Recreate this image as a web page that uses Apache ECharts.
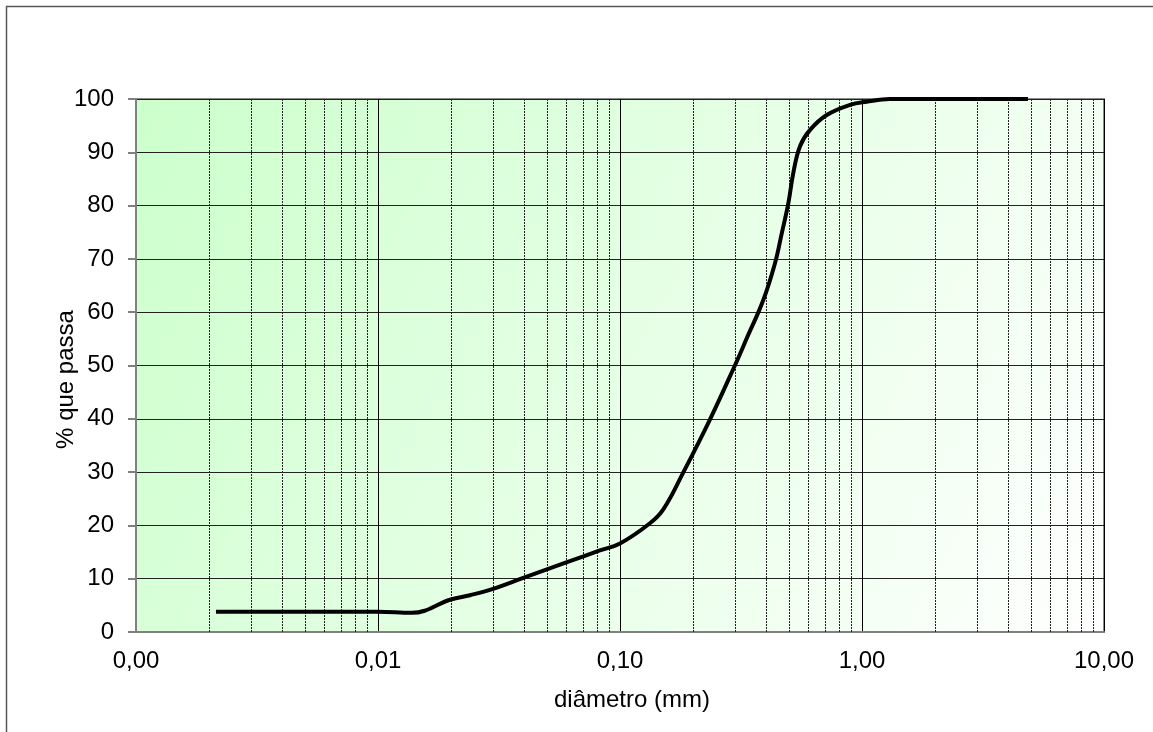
<!DOCTYPE html>
<html>
<head>
<meta charset="utf-8">
<script src="https://cdn.jsdelivr.net/npm/echarts@6/dist/echarts.min.js"></script>
<style>html,body{margin:0;padding:0;background:#fff}#c{width:1153px;height:732px}</style>
</head>
<body>
<div id="c"></div>
<script>
// diameter (mm) and % passing
var diameters = [0.00214, 0.0050, 0.0100, 0.0138, 0.0200, 0.0240, 0.0290, 0.0401, 0.0604, 0.0826, 0.100, 0.133, 0.151, 0.182, 0.235, 0.299, 0.334, 0.391, 0.437, 0.466, 0.496, 0.520, 0.554, 0.610, 0.715, 0.892, 1.045, 1.305, 4.85];
var passing   = [3.8,     3.8,    3.8,    3.6,    6.1,    6.9,    7.9,    10.2,   13.1,   15.3,   16.6,  20.4,  23.0,  29.8,  39.8,  50.1,  55.1,  62.3,  69.2,  74.8,  80.4,  86.1,  91.1,  94.2,  97.0,  98.9,  99.5,  100,   100];
var xTickLabels = ['0,00', '0,01', '0,10', '1,00', '10,00'];
var decades = [0.001, 0.01, 0.1, 1];
var minorMultipliers = [2, 3, 4, 5, 6, 7, 8, 9];
var yTicks = [0, 10, 20, 30, 40, 50, 60, 70, 80, 90, 100];

var minorXs = [];
decades.forEach(function (d) {
  minorMultipliers.forEach(function (m) { minorXs.push(+(d * m).toPrecision(3)); });
});
var lineData = diameters.map(function (d, i) { return [d, passing[i]]; });
var font = 'Liberation Sans, Arial, sans-serif';
var fs = 24;

var chart = echarts.init(document.getElementById('c'), null, { renderer: 'canvas' });
chart.setOption({
  animation: false,
  backgroundColor: '#fff',
  graphic: [{
    type: 'rect', silent: true, z: 100,
    shape: { x: 6.5, y: 6.5, width: 1300, height: 1300 },
    style: { fill: 'none', stroke: '#595959', lineWidth: 1.5 }
  }],
  grid: {
    left: 136, top: 99, right: 49, bottom: 100,
    show: true,
    backgroundColor: new echarts.graphic.LinearGradient(0, 0, 1, 1, [
      { offset: 0, color: '#ccffcc' },
      { offset: 1, color: '#ffffff' }
    ]),
    borderColor: '#8c8c8c', borderWidth: 2
  },
  xAxis: {
    type: 'log', logBase: 10, min: 0.001, max: 10,
    name: 'diâmetro (mm)', nameLocation: 'middle', nameGap: 56, nameMoveOverlap: false,
    nameTextStyle: { fontFamily: font, fontSize: fs, color: '#000', padding: [0, 0, 0, 24] },
    axisLine: { lineStyle: { color: '#808080', width: 2 } },
    axisTick: { show: false },
    axisLabel: {
      margin: 17, fontFamily: font, fontSize: fs, color: '#000',
      formatter: function (v) {
        var idx = Math.round(Math.log10(v) + 3);
        return xTickLabels[idx] !== undefined ? xTickLabels[idx] : '';
      }
    },
    splitLine: { show: true, lineStyle: { color: '#000', width: 1, type: 'solid' } }
  },
  yAxis: {
    type: 'value', min: yTicks[0], max: yTicks[yTicks.length - 1], interval: 10,
    name: '% que passa', nameLocation: 'middle', nameGap: 58, nameRotate: 90, nameMoveOverlap: false,
    nameTextStyle: { fontFamily: font, fontSize: fs, color: '#000', padding: [0, 28, 0, 0] },
    axisLine: { show: true, lineStyle: { color: '#808080', width: 2 } },
    axisTick: { show: true, length: 8, lineStyle: { color: '#808080', width: 2 } },
    axisLabel: { margin: 22, fontFamily: font, fontSize: fs, color: '#000' },
    splitLine: { show: true, lineStyle: { color: '#222', width: 1 } }
  },
  series: [{
    type: 'custom', silent: true, clip: true, z: 1,
    data: minorXs.map(function (v) { return [v]; }),
    encode: { x: 0 },
    renderItem: function (params, api) {
      var x = api.value(0);
      var p0 = api.coord([x, yTicks[0]]);
      var p1 = api.coord([x, yTicks[yTicks.length - 1]]);
      var px = Math.round(p0[0]) + 0.5;
      return {
        type: 'line',
        shape: { x1: px, y1: p0[1], x2: px, y2: p1[1] },
        style: { stroke: '#222', lineWidth: 1, lineDash: [2, 1] }
      };
    }
  }, {
    type: 'line', data: lineData, showSymbol: false, smooth: 0.4,
    lineStyle: { color: '#000', width: 4 }, z: 5
  }]
});
</script>
</body>
</html>
